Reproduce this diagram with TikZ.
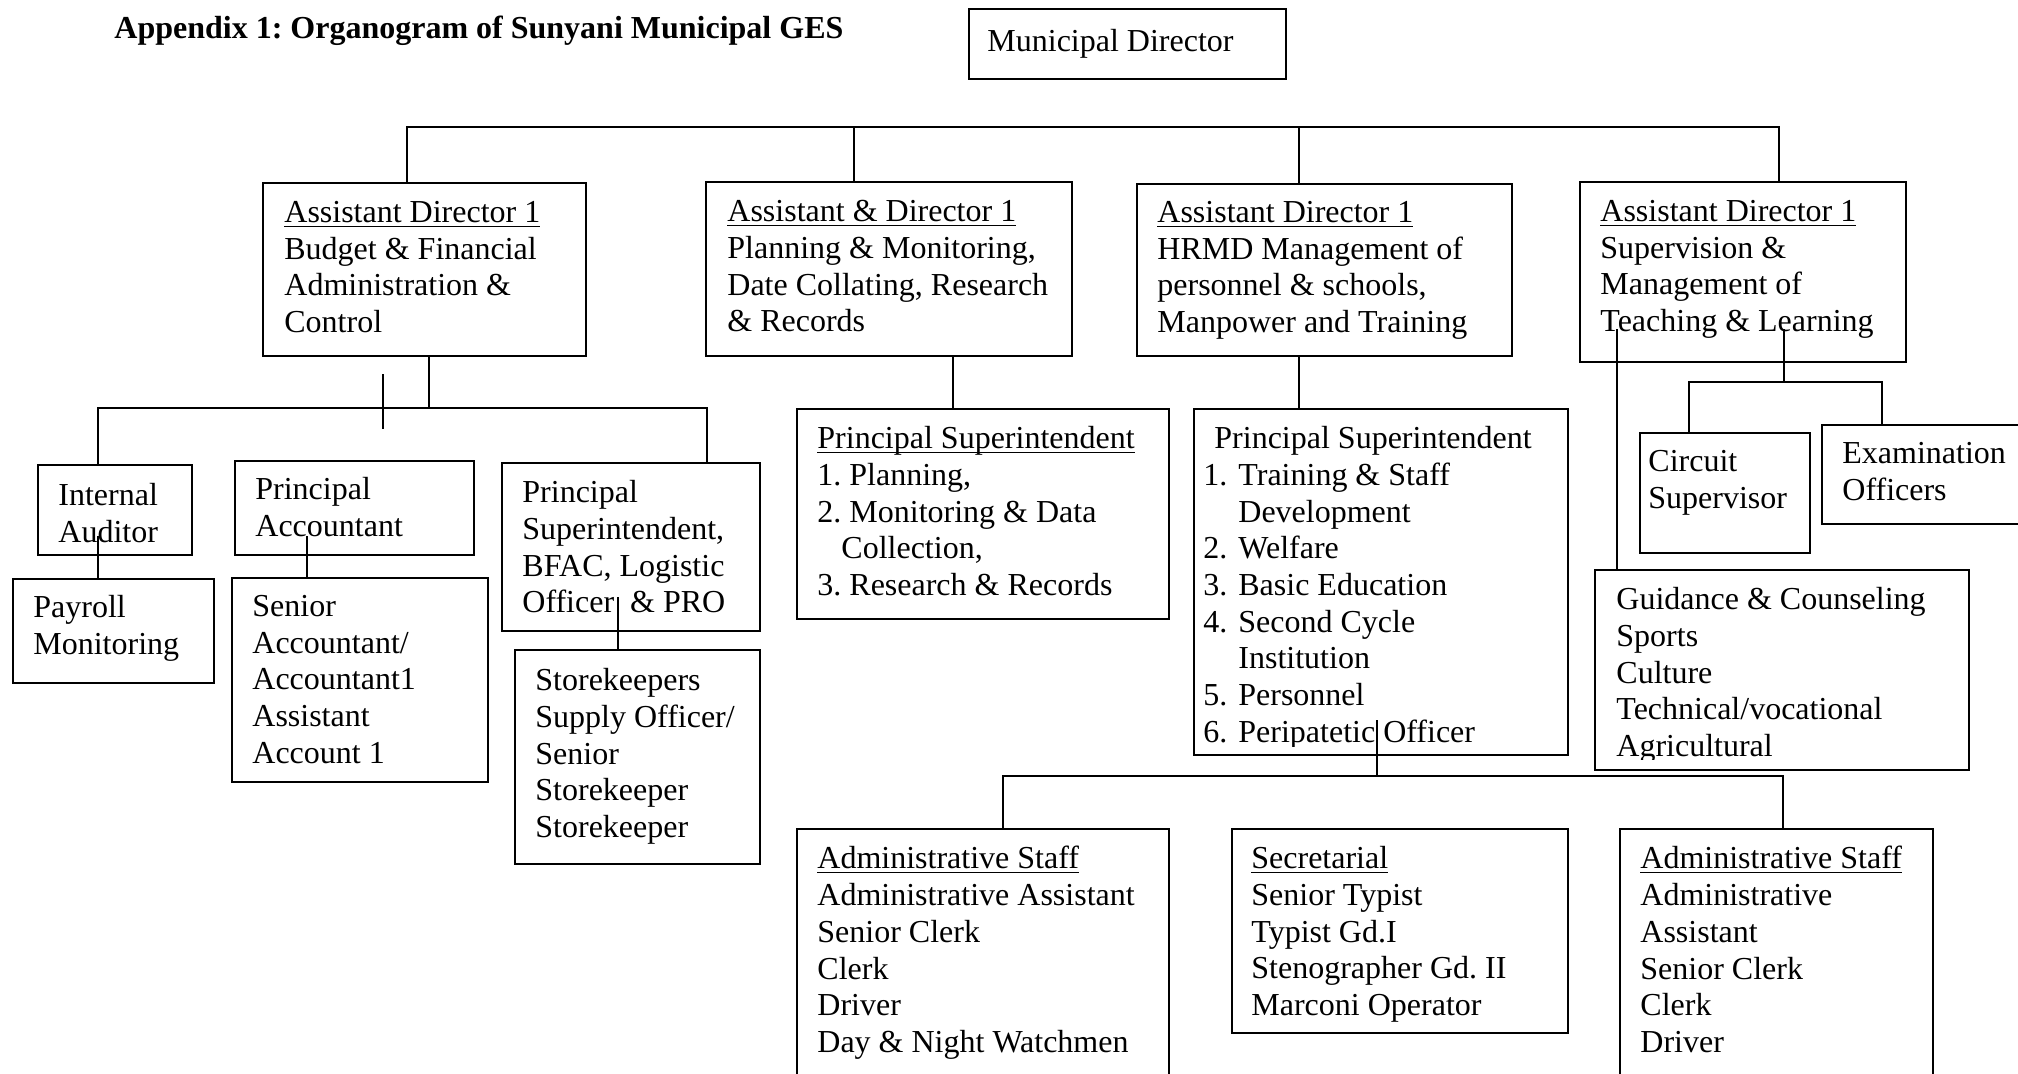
\documentclass[tikz,border=0pt]{standalone}
\usepackage{fontspec}
\setmainfont{Liberation Serif}
\frenchspacing

\newsavebox{\unitulbox}
\newcommand{\unitul}[1]{\sbox{\unitulbox}{#1}\rlap{\rule[-2.2pt]{\wd\unitulbox}{0.7pt}}\usebox{\unitulbox}}
\newcommand{\itemno}[1]{\makebox[17.5pt][l]{#1}}

\begin{document}
\begin{tikzpicture}[x=0.5pt,y=-0.5pt,
    unit/.style={draw,line width=1pt,inner sep=0pt,anchor=north west},
    entry/.style={inner sep=0pt,anchor=north west,align=left,yshift=-2pt,
      font=\fontsize{16}{18.35}\selectfont,execute at begin node=\strut},
    link/.style={line width=0.8pt,line cap=rect}]
  \path[use as bounding box,fill=white] (0,0) rectangle (2018,1074);

  % title and head
  \node[entry,font=\fontsize{16}{18.35}\selectfont\bfseries] (title) at (114,8)
    {Appendix 1: Organogram of Sunyani Municipal GES};
  \node[unit,minimum width=158.5pt,minimum height=35pt] (md) at (968,8) {};
  \node[entry] (mdt) at (987,21) {Municipal Director};

  % assistant directors
  \node[unit,minimum width=161.5pt,minimum height=86.5pt] (ad1) at (262,182) {};
  \node[entry] (ad1t) at (284,197)
    {\unitul{Assistant Director 1}\\Budget \& Financial\\Administration \&\\Control};
  \node[unit,minimum width=183pt,minimum height=87pt] (ad2) at (705,181) {};
  \node[entry] (ad2t) at (727,196)
    {\unitul{Assistant \& Director 1}\\Planning \& Monitoring,\\Date Collating, Research\\\& Records};
  \node[unit,minimum width=187.5pt,minimum height=86pt] (ad3) at (1136,183) {};
  \node[entry] (ad3t) at (1157,197)
    {\unitul{Assistant Director 1}\\HRMD Management of\\personnel \& schools,\\Manpower and Training};
  \node[unit,minimum width=163pt,minimum height=90pt] (ad4) at (1579,181) {};
  \node[entry] (ad4t) at (1600,196)
    {\unitul{Assistant Director 1}\\Supervision \&\\Management of\\Teaching \& Learning};

  % budget and finance
  \node[unit,minimum width=77pt,minimum height=45pt] (ia) at (37,464) {};
  \node[entry] (iat) at (58,479) {Internal\\Auditor};
  \node[unit,minimum width=119.5pt,minimum height=47pt] (pa) at (234,460) {};
  \node[entry] (pat) at (255,473) {Principal\\Accountant};
  \node[unit,minimum width=129pt,minimum height=84pt] (bf) at (501,462) {};
  \node[entry] (bft) at (522,476)
    {Principal\\Superintendent,\\BFAC, Logistic\\Officer\ \ \& PRO};
  \node[unit,minimum width=100.5pt,minimum height=52pt] (pr) at (12,578) {};
  \node[entry] (prt) at (33,591) {Payroll\\Monitoring};
  \node[unit,minimum width=128pt,minimum height=102pt] (sa) at (231,577) {};
  \node[entry] (sat) at (252,591)
    {Senior\\Accountant/\\Accountant1\\Assistant\\Account 1};
  \node[unit,minimum width=122.5pt,minimum height=107pt] (sk) at (514,649) {};
  \node[entry] (skt) at (535,664)
    {Storekeepers\\Supply Officer/\\Senior\\Storekeeper\\Storekeeper};

  % principal superintendents
  \node[unit,minimum width=186pt,minimum height=105pt] (ps1) at (796,408) {};
  \node[entry] (ps1t) at (817,422)
    {\unitul{Principal Superintendent}\\1. Planning,\\2. Monitoring \& Data\\\hspace*{12pt}Collection,\\3. Research \& Records};
  \node[unit,minimum width=187pt,minimum height=173pt] (ps2) at (1193,408) {};
  \begin{scope}
    \clip (1194,409) rectangle (1566,746);
    \node[entry] (ps2t) at (1203,422)
      {\hspace*{5.5pt}Principal Superintendent\\\itemno{1.}Training \& Staff\\\itemno{}Development\\
       \itemno{2.}Welfare\\\itemno{3.}Basic Education\\\itemno{4.}Second Cycle\\\itemno{}Institution\\
       \itemno{5.}Personnel\\\itemno{6.}Peripatetic Officer};
  \end{scope}

  % supervision
  \node[unit,minimum width=85pt,minimum height=60pt] (cs) at (1639,432) {};
  \node[entry] (cst) at (1648,446) {Circuit\\Supervisor};
  \node[unit,minimum width=109.5pt,minimum height=49.5pt] (eo) at (1821,424) {};
  \node[entry] (eot) at (1842,438) {Examination\\Officers};
  \node[unit,minimum width=187pt,minimum height=100pt] (gc) at (1594,569) {};
  \begin{scope}
    \clip (1595,570) rectangle (1967,759);
    \node[entry] (gct) at (1616,583)
      {Guidance \& Counseling\\Sports\\Culture\\Technical/vocational\\Agricultural};
  \end{scope}

  % staff
  \node[unit,minimum width=186pt,minimum height=136pt] (as1) at (796,828) {};
  \node[entry] (as1t) at (817,842)
    {\unitul{Administrative Staff}\\Administrative Assistant\\Senior Clerk\\Clerk\\Driver\\Day \& Night Watchmen};
  \node[unit,minimum width=168pt,minimum height=102pt] (sec) at (1231,828) {};
  \node[entry] (sect) at (1251,842)
    {\unitul{Secretarial}\\Senior Typist\\Typist Gd.I\\Stenographer Gd. II\\Marconi Operator};
  \node[unit,minimum width=156.5pt,minimum height=136pt] (as2) at (1619,828) {};
  \node[entry] (as2t) at (1640,842)
    {\unitul{Administrative Staff}\\Administrative\\Assistant\\Senior Clerk\\Clerk\\Driver};

  % connectors
  \coordinate (b1) at (407,127);
  \coordinate (b2) at (854,127);
  \coordinate (b3) at (1299,127);
  \coordinate (b4) at (1779,127);
  \path[link]
    (b1) edge (b4)
    (b1) edge (b1 |- ad1.north)
    (b2) edge (b2 |- ad2.north)
    (b3) edge (b3 |- ad3.north)
    (b4) edge (b4 |- ad4.north);

  \coordinate (f0) at (429,408);
  \coordinate (f1) at (98,408);
  \coordinate (f2) at (707,408);
  \coordinate (s1) at (383,375);
  \coordinate (s2) at (383,428);
  \coordinate (iaq) at (98,537);
  \coordinate (paq) at (307,537);
  \coordinate (bfq) at (618,598);
  \path[link]
    (f0 |- ad1.south) edge (f0)
    (f1) edge (f2)
    (f1) edge (f1 |- ia.north)
    (f2) edge (f2 |- bf.north)
    (s1) edge (s2)
    (iaq) edge (iaq |- pr.north)
    (paq) edge (paq |- sa.north)
    (bfq) edge (bfq |- sk.north);

  \coordinate (p1) at (953,380);
  \coordinate (p2) at (1299,380);
  \coordinate (g0) at (1377,721);
  \coordinate (g1) at (1003,776);
  \coordinate (g2) at (1783,776);
  \path[link]
    (p1 |- ad2.south) edge (p1 |- ps1.north)
    (p2 |- ad3.south) edge (p2 |- ps2.north)
    (g0) edge (g0 |- g1)
    (g1) edge (g2)
    (g1) edge (g1 |- as1.north)
    (g2) edge (g2 |- as2.north);

  \coordinate (t1) at (1617,330);
  \coordinate (t2) at (1784,330);
  \coordinate (e1) at (1689,382);
  \coordinate (e2) at (1882,382);
  \path[link]
    (t1) edge (t1 |- gc.north)
    (t2) edge (t2 |- e1)
    (e1) edge (e2)
    (e1) edge (e1 |- cs.north)
    (e2) edge (e2 |- eo.north);
\end{tikzpicture}
\end{document}
